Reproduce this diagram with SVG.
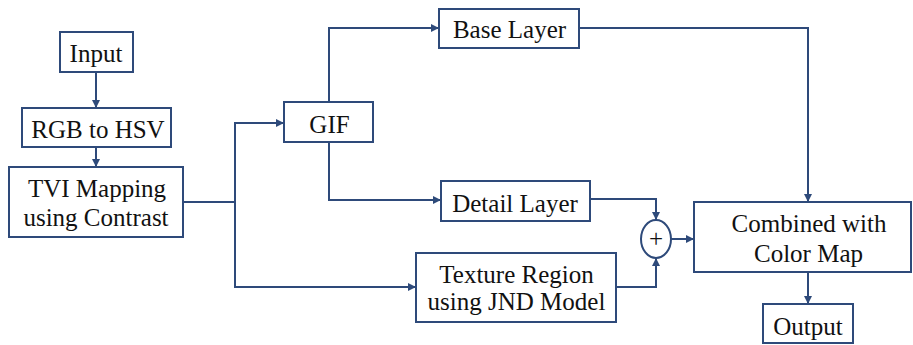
<svg xmlns="http://www.w3.org/2000/svg" width="913" height="345" viewBox="0 0 913 345">
  <style>
    .box { fill: #ffffff; stroke: #2e4a7a; stroke-width: 2; }
    .wire { fill: none; stroke: #2e4a7a; stroke-width: 2; marker-end: url(#arr); }
    .plain { fill: none; stroke: #2e4a7a; stroke-width: 2; }
  </style>
  <defs>
    <marker id="arr" markerUnits="userSpaceOnUse" markerWidth="10" markerHeight="10" refX="8" refY="4" orient="auto">
      <path d="M0,0 L8,4 L0,8 Z" fill="#2e4a7a"/>
    </marker>
  </defs>
  <rect width="913" height="345" fill="#ffffff"/>

  <g id="connectors">
    <path class="wire" d="M96,72 V108"/>
    <path class="wire" d="M96,147 V167"/>
    <path class="plain" d="M183,202 H235"/>
    <path class="wire" d="M235,202 V123 H284"/>
    <path class="wire" d="M235,202 V287 H416"/>
    <path class="wire" d="M329,102 V28 H439"/>
    <path class="wire" d="M329,142 V200 H441"/>
    <path class="wire" d="M579,28 H808 V202"/>
    <path class="wire" d="M590,199 H656 V220"/>
    <path class="wire" d="M616,287 H656 V258"/>
    <path class="wire" d="M671,239 H694"/>
    <path class="wire" d="M808,272 V304"/>
  </g>

  <g id="input">
    <rect class="box" x="60" y="32" width="73" height="40"/>
    <text font-family="Liberation Serif, DejaVu Serif, serif" font-size="25" fill="#111111" text-anchor="middle" x="96" y="62">Input</text>
  </g>
  <g id="rgb-to-hsv">
    <rect class="box" x="22" y="108" width="149" height="39"/>
    <text font-family="Liberation Serif, DejaVu Serif, serif" font-size="25" fill="#111111" text-anchor="middle" x="98" y="138">RGB to HSV</text>
  </g>
  <g id="tvi-mapping">
    <rect class="box" x="9" y="167" width="174" height="70"/>
    <text font-family="Liberation Serif, DejaVu Serif, serif" font-size="25" fill="#111111" text-anchor="middle" x="97" y="197">TVI Mapping</text>
    <text font-family="Liberation Serif, DejaVu Serif, serif" font-size="25" fill="#111111" text-anchor="middle" x="96" y="226">using Contrast</text>
  </g>
  <g id="gif">
    <rect class="box" x="284" y="102" width="89" height="40"/>
    <text font-family="Liberation Serif, DejaVu Serif, serif" font-size="25" fill="#111111" text-anchor="middle" x="329.5" y="133">GIF</text>
  </g>
  <g id="base-layer">
    <rect class="box" x="439" y="9" width="140" height="39"/>
    <text font-family="Liberation Serif, DejaVu Serif, serif" font-size="25" fill="#111111" text-anchor="middle" x="509.5" y="38">Base Layer</text>
  </g>
  <g id="detail-layer">
    <rect class="box" x="441" y="181" width="149" height="40"/>
    <text font-family="Liberation Serif, DejaVu Serif, serif" font-size="25" fill="#111111" text-anchor="middle" x="515" y="212">Detail Layer</text>
  </g>
  <g id="texture-region">
    <rect class="box" x="416" y="253" width="200" height="69"/>
    <text font-family="Liberation Serif, DejaVu Serif, serif" font-size="25" fill="#111111" text-anchor="middle" x="516.5" y="283">Texture Region</text>
    <text font-family="Liberation Serif, DejaVu Serif, serif" font-size="25" fill="#111111" text-anchor="middle" x="516.5" y="310">using JND Model</text>
  </g>
  <g id="sum">
    <ellipse class="box" cx="656" cy="239" rx="15" ry="19"/>
    <text font-family="Liberation Serif, DejaVu Serif, serif" font-size="25" fill="#111111" text-anchor="middle" x="656" y="247">+</text>
  </g>
  <g id="combined">
    <rect class="box" x="694" y="202" width="217" height="70"/>
    <text font-family="Liberation Serif, DejaVu Serif, serif" font-size="25" fill="#111111" text-anchor="middle" x="809" y="232">Combined with</text>
    <text font-family="Liberation Serif, DejaVu Serif, serif" font-size="25" fill="#111111" text-anchor="middle" x="808.5" y="262">Color Map</text>
  </g>
  <g id="output">
    <rect class="box" x="763" y="304" width="90" height="39"/>
    <text font-family="Liberation Serif, DejaVu Serif, serif" font-size="25" fill="#111111" text-anchor="middle" x="808" y="335">Output</text>
  </g>
</svg>
